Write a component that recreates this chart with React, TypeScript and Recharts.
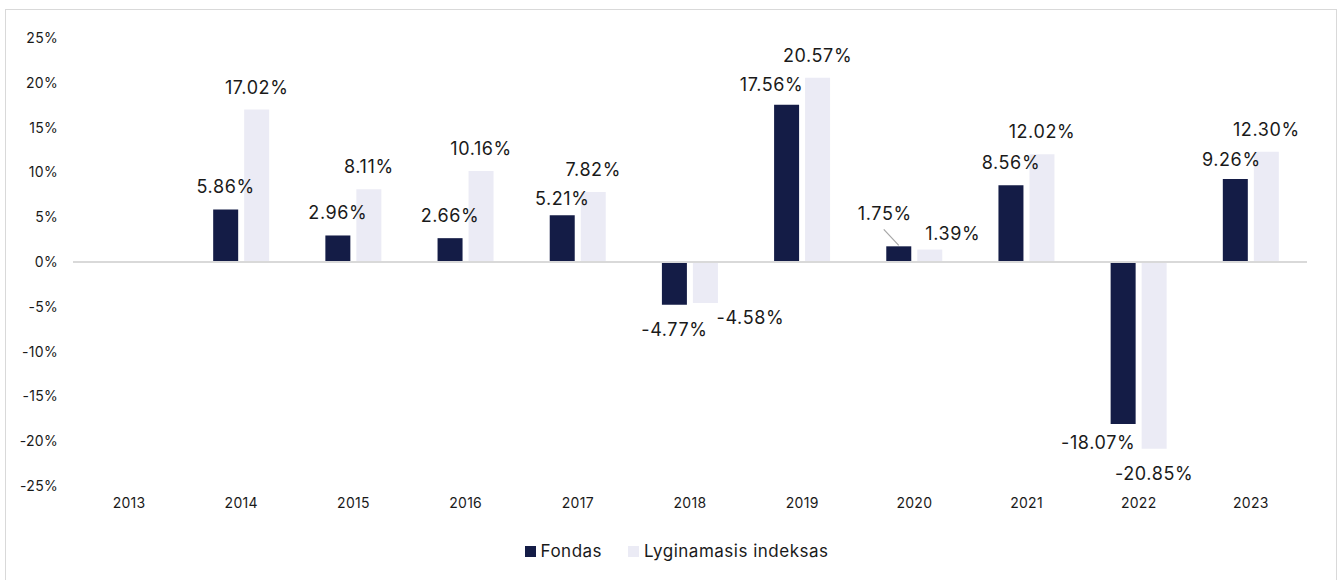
import React from "react";
import {
  BarChart,
  Bar,
  XAxis,
  YAxis,
  ReferenceLine,
  LabelList,
  Legend,
} from "recharts";

const years = ["2013", "2014", "2015", "2016", "2017", "2018", "2019", "2020", "2021", "2022", "2023"];
const fundReturns = [null, 5.86, 2.96, 2.66, 5.21, -4.77, 17.56, 1.75, 8.56, -18.07, 9.26];
const indexReturns = [null, 17.02, 8.11, 10.16, 7.82, -4.58, 20.57, 1.39, 12.02, -20.85, 12.3];
const yTicks = [-25, -20, -15, -10, -5, 0, 5, 10, 15, 20, 25];

// label nudges (px) where the labels were moved by hand in the original
const fundNudge: [number, number][] = [
  [0, 0], [0, 0], [0, 0], [0, 0], [0, 6], [0, 0], [-15, 2], [-14, -10], [0, 0], [-25, -6], [-4, 3],
];
const indexNudge: [number, number][] = [
  [0, 0], [0, 0], [0, 0], [0, 0], [0, 0], [45, -10], [0, 0], [23, 6], [0, 0], [0, 0], [0, 0],
];

const FONT = "Inter, 'Liberation Sans', Arial, sans-serif";
const FUND = "#141c46";
const INDEX = "#ebebf5";

const data = years.map((year, i) => ({
  year,
  fund: fundReturns[i],
  index: indexReturns[i],
}));

const fmt = (v: number) => `${v.toFixed(2)}%`;

function makeLabel(values: (number | null)[], nudge: [number, number][], leaderYear: number | null) {
  return (p: any) => {
    const { value } = p;
    if (value == null) return null;
    const i = values.indexOf(Number(value));
    const vb = p.viewBox ?? p;
    const x = Number(vb.x ?? p.x);
    const y = Number(vb.y ?? p.y);
    const w = Number(vb.width ?? p.width);
    const h = Number(vb.height ?? p.height);
    const top = Math.min(y, y + h);
    const bottom = Math.max(y, y + h);
    const cx = x + w / 2;
    const [dx, dy] = nudge[i] ?? [0, 0];
    const ty = value >= 0 ? top - 16 + dy : bottom + 31 + dy;
    return (
      <g>
        {leaderYear === i && (
          <line x1={cx - 15} y1={top - 17} x2={cx} y2={top - 1} stroke="#a6a6a6" strokeWidth={1.2} />
        )}
        <text
          x={cx + dx}
          y={ty}
          textAnchor="middle"
          fontSize={18}
          letterSpacing={0.6}
          fontFamily={FONT}
          fill="#1a1a1a"
        >
          {fmt(value)}
        </text>
      </g>
    );
  };
}

const legendItems = [
  { name: "Fondas", color: FUND },
  { name: "Lyginamasis indeksas", color: INDEX },
];

function LegendContent() {
  return (
    <div
      style={{
        display: "flex",
        justifyContent: "center",
        gap: 26,
        paddingLeft: 40,
        fontFamily: FONT,
        fontSize: 17,
        letterSpacing: 0.5,
        color: "#1a1a1a",
      }}
    >
      {legendItems.map((it) => (
        <div key={it.name} style={{ display: "flex", alignItems: "center", gap: 5 }}>
          <span style={{ width: 11, height: 11, background: it.color, display: "inline-block" }} />
          <span>{it.name}</span>
        </div>
      ))}
    </div>
  );
}

export default function App() {
  return (
    <div
      style={{
        position: "fixed",
        left: 5,
        top: 9,
        width: 1332,
        height: 600,
        border: "1px solid #d9d9d9",
        background: "#fff",
        boxSizing: "border-box",
      }}
    >
      <BarChart
        width={1330}
        height={570}
        data={data}
        margin={{ top: 28, right: 29, left: 0, bottom: 0 }}
        barGap={6}
        barSize={25}
      >
        <YAxis
          domain={[-25, 25]}
          ticks={yTicks}
          tickFormatter={(v) => `${v}%`}
          width={67}
          axisLine={false}
          tickLine={false}
          tickMargin={9}
          tick={{ fontSize: 14, fill: "#1a1a1a", fontFamily: FONT, letterSpacing: 0.3 }}
        />
        <XAxis
          dataKey="year"
          height={55}
          axisLine={false}
          tickLine={false}
          tickMargin={6}
          tick={{ fontSize: 14, fill: "#1a1a1a", fontFamily: FONT, letterSpacing: 0.3 }}
        />
        <ReferenceLine y={0} stroke="#d9d9d9" strokeWidth={2} />
        <Legend verticalAlign="bottom" height={39} content={<LegendContent />} />
        <Bar dataKey="fund" name="Fondas" fill={FUND} isAnimationActive={false}>
          <LabelList dataKey="fund" content={makeLabel(fundReturns, fundNudge, 7)} />
        </Bar>
        <Bar dataKey="index" name="Lyginamasis indeksas" fill={INDEX} isAnimationActive={false}>
          <LabelList dataKey="index" content={makeLabel(indexReturns, indexNudge, null)} />
        </Bar>
      </BarChart>
    </div>
  );
}
